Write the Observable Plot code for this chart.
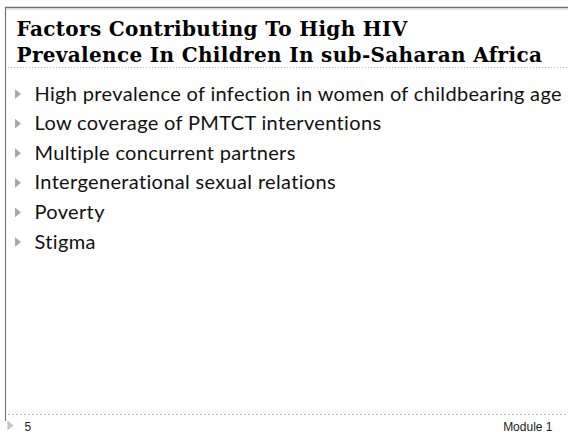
<!DOCTYPE html>
<html>
<head>
<meta charset="utf-8">
<script src="https://cdn.jsdelivr.net/npm/d3@7"></script>
<script src="https://cdn.jsdelivr.net/npm/@observablehq/plot@0.6"></script>
<style>
  html, body { margin: 0; padding: 0; background: #fff; }
  svg { display: block; }
</style>
</head>
<body>
<div id="chart"></div>
<script>
// ---- Data ----
const titleLines = [
  "Factors Contributing To High HIV",
  "Prevalence In Children In sub-Saharan Africa"
];
const bullets = [
  "High prevalence of infection in women of childbearing age",
  "Low coverage of PMTCT interventions",
  "Multiple concurrent partners",
  "Intergenerational sexual relations",
  "Poverty",
  "Stigma"
];
const slideNumber = ["5"];
const footerRight = ["Module 1"];

// ---- Layout (page geometry) ----
const W = 568, H = 432;
const layout = {
  borderX: 5, borderTop: 7, borderBottom: 421,
  titleX: 16, titleBase: 35, titleStep: 26,
  titleRule: 67,
  bulletX: 17.5, textX: 34, bulletBase: 100, bulletStep: 29.6,
  footerRule: 414, footerBase: 430
};

const triRight = {
  draw(context, size) {
    const h = Math.sqrt(size) * 1.1, w = h * 0.6;
    context.moveTo(-w / 2, -h / 2);
    context.lineTo(w / 2, 0);
    context.lineTo(-w / 2, h / 2);
    context.closePath();
  }
};

const titleData = titleLines.map((t, i) => ({t, y: layout.titleBase + i * layout.titleStep}));
const bulletData = bullets.map((t, i) => ({t, y: layout.bulletBase + i * layout.bulletStep}));

const chart = Plot.plot({
  width: W, height: H,
  margin: 0,
  x: {domain: [0, W], range: [0, W], axis: null},
  y: {domain: [0, H], range: [0, H], axis: null},
  style: {background: "#fff", overflow: "visible"},
  marks: [
    // slide frame
    Plot.ruleY([layout.borderTop], {x1: layout.borderX, x2: W, stroke: "#6e6e6e", strokeWidth: 1.6}),
    Plot.ruleY([layout.borderTop + 1.5], {x1: layout.borderX, x2: W, stroke: "#d6d6d6", strokeWidth: 1}),
    Plot.ruleX([layout.borderX], {y1: layout.borderTop, y2: layout.borderBottom, stroke: "#7a7a7a", strokeWidth: 1.2}),
    // title
    Plot.text(titleData, {
      x: layout.titleX, y: "y", text: "t",
      textAnchor: "start", lineAnchor: "bottom",
      fontFamily: "DejaVu Serif", fontWeight: "bold", fontSize: 20, fill: "#000"
    }),
    Plot.ruleY([layout.titleRule], {x1: layout.borderX + 3, x2: W, stroke: "#b8b8b8", strokeWidth: 1, strokeDasharray: "1.2,1.8"}),
    // bullets
    Plot.dot(bulletData, {
      x: layout.bulletX, y: d => d.y - 6.5, symbol: triRight, r: 5,
      fill: "#a6a6a6", stroke: null
    }),
    Plot.text(bulletData, {
      x: layout.textX, y: "y", text: "t",
      textAnchor: "start", lineAnchor: "bottom",
      fontFamily: "Lato", fontSize: 20, fill: "#111"
    }),
    // footer
    Plot.ruleY([layout.footerRule], {x1: layout.borderX + 3, x2: W, stroke: "#b8b8b8", strokeWidth: 1, strokeDasharray: "2,2"}),
    Plot.dot(slideNumber, {
      x: 10, y: layout.footerBase - 5, symbol: triRight, r: 5.2,
      fill: "#c4c4c4", stroke: null
    }),
    Plot.text(slideNumber, {
      x: 24, y: layout.footerBase, text: d => d,
      textAnchor: "start", lineAnchor: "bottom",
      fontFamily: "Liberation Sans", fontSize: 12, fill: "#222"
    }),
    Plot.text(footerRight, {
      x: 552, y: layout.footerBase, text: d => d,
      textAnchor: "end", lineAnchor: "bottom",
      fontFamily: "Liberation Sans", fontSize: 12, fill: "#222"
    })
  ]
});

// letter-spacing tweaks to match the original slide fonts' widths
d3.select(chart).selectAll("text").each(function () {
  const s = this.textContent;
  if (titleLines.includes(s)) this.setAttribute("letter-spacing", "0.34");
  else if (bullets.includes(s)) this.setAttribute("letter-spacing", "0.34");
});
document.getElementById("chart").appendChild(chart);
</script>
</body>
</html>
